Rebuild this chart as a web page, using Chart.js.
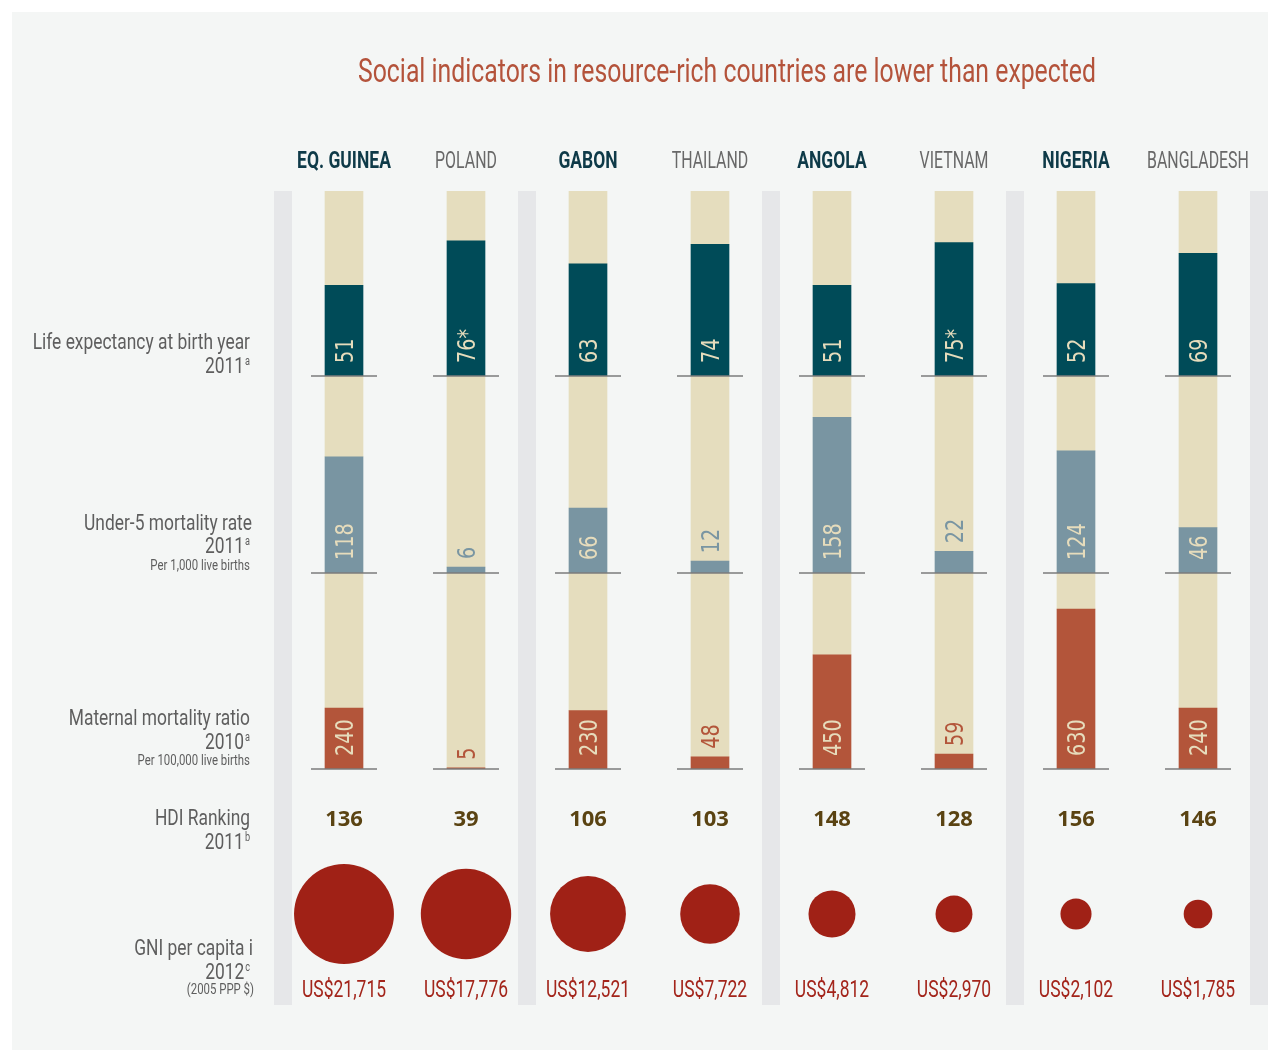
<!DOCTYPE html>
<html>
<head>
<meta charset="utf-8">
<title>Social indicators in resource-rich countries</title>
<script src="https://cdn.jsdelivr.net/npm/chart.js@4.4.1/dist/chart.umd.min.js"></script>
<style>
  html, body { margin: 0; padding: 0; background: #ffffff; }
  #social { display: block; }
</style>
</head>
<body>
<canvas id="social" width="1268" height="1051"></canvas>
<script>
var countries = ['EQ. GUINEA', 'POLAND', 'GABON', 'THAILAND', 'ANGOLA', 'VIETNAM', 'NIGERIA', 'BANGLADESH'];
var resourceRich = [true, false, true, false, true, false, true, false];
var lifeExpectancy = [51, 76, 63, 74, 51, 75, 52, 69];
var lifeNotes = ['', '*', '', '', '', '*', '', ''];
var under5Mortality = [118, 6, 66, 12, 158, 22, 124, 46];
var maternalMortality = [240, 5, 230, 48, 450, 59, 630, 240];
var hdiRanking = [136, 39, 106, 103, 148, 128, 156, 146];
var gniPerCapita = [21715, 17776, 12521, 7722, 4812, 2970, 2102, 1785];

// full height of each column track
var LIFE_MAX = 104;
var U5_MAX = 200;
var MMR_MAX = 772;

var TEAL = '#004b58';
var SLATE = '#7995a2';
var RUST = '#b3553a';
var BEIGE = '#e5ddbe';
var GNI_RED = '#a02116';

function hasFont(name) {
  var c = document.createElement('canvas').getContext('2d');
  c.font = '20px monospace';
  var a = c.measureText('abcdefghijklmnop').width;
  c.font = '20px "' + name + '", monospace';
  return c.measureText('abcdefghijklmnop').width !== a;
}
var narrowOk = hasFont('Liberation Sans Narrow');
var NARROW = narrowOk ? '"Liberation Sans Narrow"' : 'Roboto';
var SQUEEZE = narrowOk ? 0.94 : 0.76;

function squeezeText(ctx, text, x, y, k) {
  ctx.fillText(text, x, y, ctx.measureText(text).width * (k || SQUEEZE));
}

// stacked value + remainder, so each column shows a beige track
function panelSets(values, max, color, axis) {
  return [
    { type: 'bar', label: axis, data: values, backgroundColor: color, yAxisID: axis, order: 0 },
    { type: 'bar', label: axis + ' track', data: values.map(function (v) { return max - v; }), backgroundColor: BEIGE, yAxisID: axis, order: 1 }
  ];
}

var datasets = []
  .concat(panelSets(lifeExpectancy, LIFE_MAX, TEAL, 'yLife'))
  .concat(panelSets(under5Mortality, U5_MAX, SLATE, 'yU5'))
  .concat(panelSets(maternalMortality, MMR_MAX, RUST, 'yMmr'));

// circle area follows GNI per capita
datasets.push({
  type: 'bubble',
  label: 'GNI per capita',
  data: countries.map(function (c, i) {
    return { x: c, y: 0, r: Math.sqrt(gniPerCapita[i]) * 0.339 };
  }),
  backgroundColor: GNI_RED,
  borderWidth: 0,
  yAxisID: 'yLow'
});

var rowLabels = [
  { text: 'Life expectancy at birth year', y: 349, size: 22 },
  { text: '2011', sup: 'a', y: 373, size: 22 },
  { text: 'Under-5 mortality rate', y: 530, size: 22, right: 252 },
  { text: '2011', sup: 'a', y: 553, size: 22 },
  { text: 'Per 1,000 live births', y: 570, size: 15 },
  { text: 'Maternal mortality ratio', y: 725, size: 22 },
  { text: '2010', sup: 'a', y: 749, size: 22 },
  { text: 'Per 100,000 live births', y: 765, size: 15 },
  { text: 'HDI Ranking', y: 825, size: 22 },
  { text: '2011', sup: 'b', y: 849, size: 22 },
  { text: 'GNI per capita i', y: 955, size: 22, right: 253 },
  { text: '2012', sup: 'c', y: 979, size: 22 },
  { text: '(2005 PPP $)', y: 994, size: 15, right: 254 }
];

var decorations = {
  id: 'decorations',
  beforeDraw: function (chart) {
    var ctx = chart.ctx;
    ctx.save();
    ctx.fillStyle = '#f4f6f5';
    ctx.fillRect(12, 12, chart.width - 12, chart.height - 13);
    ctx.restore();
  },
  afterDatasetsDraw: function (chart) {
    var ctx = chart.ctx;
    var sets = [
      { index: 0, values: lifeExpectancy, notes: lifeNotes, color: TEAL },
      { index: 2, values: under5Mortality, color: SLATE },
      { index: 4, values: maternalMortality, color: RUST }
    ];
    ctx.save();
    sets.forEach(function (set) {
      var meta = chart.getDatasetMeta(set.index);
      meta.data.forEach(function (bar, i) {
        // base rule under each column
        ctx.strokeStyle = '#7b7b7b';
        ctx.lineWidth = 1.5;
        ctx.beginPath();
        ctx.moveTo(bar.x - 33, bar.base);
        ctx.lineTo(bar.x + 33, bar.base);
        ctx.stroke();

        var text = String(set.values[i]) + (set.notes ? set.notes[i] : '');
        ctx.font = '24px "DejaVu Sans"';
        var w = ctx.measureText(text).width * 0.8;
        var inside = (bar.base - bar.y) >= w + 18;
        var start = inside ? bar.base - 13 : bar.y - 8;
        ctx.save();
        ctx.translate(bar.x, start);
        ctx.rotate(-Math.PI / 2);
        ctx.textAlign = 'left';
        ctx.textBaseline = 'alphabetic';
        ctx.fillStyle = inside ? '#e6dcbc' : set.color;
        ctx.fillText(text, 0, 24 * 0.36, w);
        ctx.restore();
      });
    });
    ctx.restore();
  },
  afterDraw: function (chart) {
    var ctx = chart.ctx;
    var x = chart.scales.x;
    ctx.save();

    // title
    ctx.textAlign = 'center';
    ctx.textBaseline = 'alphabetic';
    ctx.fillStyle = '#b4533b';
    ctx.font = '34px ' + NARROW;
    squeezeText(ctx, 'Social indicators in resource-rich countries are lower than expected', 727, 82, SQUEEZE * 0.96);

    // country names
    countries.forEach(function (name, i) {
      ctx.font = (resourceRich[i] ? 'bold ' : '') + '23px ' + NARROW;
      ctx.fillStyle = resourceRich[i] ? '#0e3a48' : '#686868';
      squeezeText(ctx, name, x.getPixelForValue(i), 168, resourceRich[i] ? SQUEEZE : SQUEEZE * 0.91);
    });

    // HDI ranking
    ctx.font = 'bold 22px "Open Sans"';
    ctx.fillStyle = '#5a4312';
    hdiRanking.forEach(function (v, i) {
      ctx.fillText(String(v), x.getPixelForValue(i), 826);
    });

    // GNI amounts
    ctx.font = '23px ' + NARROW;
    ctx.fillStyle = '#a3251b';
    gniPerCapita.forEach(function (v, i) {
      squeezeText(ctx, 'US$' + v.toLocaleString('en-US'), x.getPixelForValue(i), 997);
    });

    // row labels on the left
    ctx.fillStyle = '#5e5e5e';
    ctx.textAlign = 'right';
    rowLabels.forEach(function (row) {
      var right = row.right || 250;
      if (row.sup) {
        ctx.font = '12px ' + NARROW;
        var sw = ctx.measureText(row.sup).width * SQUEEZE;
        squeezeText(ctx, row.sup, right, row.y - 8);
        right -= sw + 1;
      }
      ctx.font = row.size + 'px ' + NARROW;
      squeezeText(ctx, row.text, right, row.y, row.size > 20 ? SQUEEZE * 1.04 : SQUEEZE);
    });
    ctx.restore();
  }
};

new Chart(document.getElementById('social'), {
  type: 'bar',
  data: { labels: countries, datasets: datasets },
  plugins: [decorations],
  options: {
    responsive: false,
    animation: false,
    events: [],
    barThickness: 38,
    layout: { autoPadding: false, padding: { top: 191, bottom: 46, left: 283, right: 9 } },
    plugins: {
      legend: { display: false },
      title: { display: false },
      tooltip: { enabled: false }
    },
    scales: {
      x: {
        type: 'category',
        position: 'top',
        stacked: true,
        offset: true,
        border: { display: false },
        ticks: { display: false },
        grid: {
          offset: true,
          drawTicks: false,
          lineWidth: 18,
          color: function (ctx) {
            return (ctx.index === undefined || ctx.index % 2 === 0) ? '#e6e7e9' : 'rgba(0,0,0,0)';
          }
        }
      },
      yLife: { position: 'right', stack: 'rows', stackWeight: 185, stacked: true, min: 0, max: LIFE_MAX, display: false },
      yU5: { position: 'right', stack: 'rows', stackWeight: 197, stacked: true, min: 0, max: U5_MAX, display: false },
      yMmr: { position: 'right', stack: 'rows', stackWeight: 196, stacked: true, min: 0, max: MMR_MAX, display: false },
      yLow: { position: 'right', stack: 'rows', stackWeight: 236, min: -91, max: 145, display: false }
    }
  }
});
</script>
</body>
</html>
